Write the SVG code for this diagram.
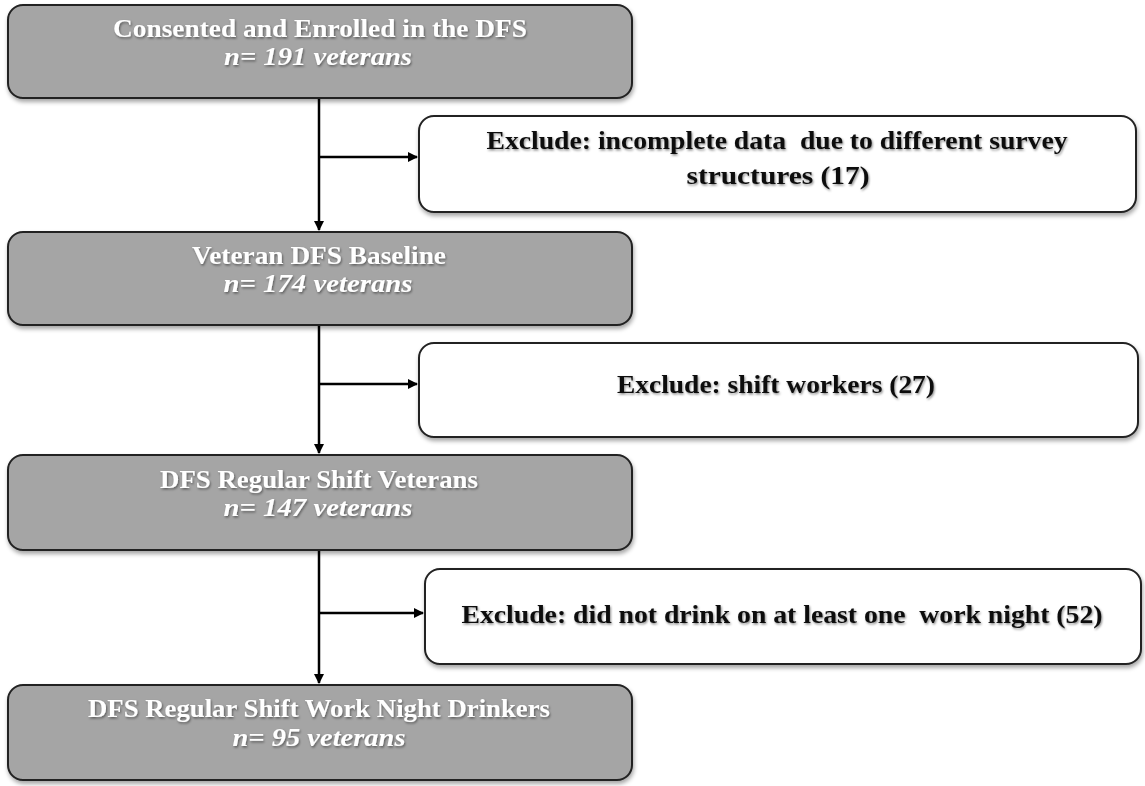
<svg xmlns="http://www.w3.org/2000/svg" width="1145" height="786" viewBox="0 0 1145 786">
<style>
.g{fill:#a5a5a5;stroke:#222;stroke-width:2}
.w{fill:#fff;stroke:#222;stroke-width:2}
.t{font-family:"Liberation Serif",serif;font-weight:bold;font-size:26px;text-anchor:middle;white-space:pre}
.tw{fill:#fff}
.tb{fill:#111}
.i{font-style:italic}
.c{stroke:#000;stroke-width:2.5;fill:none}
</style>
<defs>
<filter id="sh" x="-5%" y="-10%" width="110%" height="130%">
<feDropShadow dx="1" dy="3" stdDeviation="2" flood-color="#000" flood-opacity="0.35"/>
</filter>
<filter id="ts" x="-5%" y="-20%" width="110%" height="150%">
<feDropShadow dx="1" dy="1.5" stdDeviation="1.2" flood-color="#000" flood-opacity="0.45"/>
</filter>
<marker id="ah" viewBox="0 0 10 10" refX="9" refY="5" markerWidth="4" markerHeight="4" orient="auto" markerUnits="strokeWidth">
<path d="M0,0 L10,5 L0,10 z" fill="#000"/>
</marker>
</defs>
<g id="connectors">
<path class="c" d="M319,98 V230" marker-end="url(#ah)"/>
<path class="c" d="M319,157 H417" marker-end="url(#ah)"/>
<path class="c" d="M319,325 V453" marker-end="url(#ah)"/>
<path class="c" d="M319,384 H417" marker-end="url(#ah)"/>
<path class="c" d="M319,550 V683" marker-end="url(#ah)"/>
<path class="c" d="M319,613 H423" marker-end="url(#ah)"/>
</g>
<g id="n1">
<rect class="g" x="8" y="5" width="624" height="93" rx="15" filter="url(#sh)"/>
<g filter="url(#ts)"><text class="t tw" x="320" y="37" textLength="414" lengthAdjust="spacingAndGlyphs">Consented and Enrolled in the DFS</text>
<text class="t tw i" x="318" y="65" textLength="188" lengthAdjust="spacingAndGlyphs">n= 191 veterans</text></g>
</g>
<g id="n2">
<rect class="w" x="419" y="116" width="717" height="96" rx="15" filter="url(#sh)"/>
<g filter="url(#ts)"><text class="t tb" x="777" y="149" textLength="581" lengthAdjust="spacingAndGlyphs">Exclude: incomplete data  due to different survey</text>
<text class="t tb" x="778" y="184" textLength="183" lengthAdjust="spacingAndGlyphs">structures (17)</text></g>
</g>
<g id="n3">
<rect class="g" x="8" y="232" width="624" height="93" rx="15" filter="url(#sh)"/>
<g filter="url(#ts)"><text class="t tw" x="319" y="264" textLength="254" lengthAdjust="spacingAndGlyphs">Veteran DFS Baseline</text>
<text class="t tw i" x="318" y="292" textLength="189" lengthAdjust="spacingAndGlyphs">n= 174 veterans</text></g>
</g>
<g id="n4">
<rect class="w" x="419" y="343" width="719" height="94" rx="15" filter="url(#sh)"/>
<g filter="url(#ts)"><text class="t tb" x="776" y="393" textLength="318" lengthAdjust="spacingAndGlyphs">Exclude: shift workers (27)</text></g>
</g>
<g id="n5">
<rect class="g" x="8" y="455" width="624" height="95" rx="15" filter="url(#sh)"/>
<g filter="url(#ts)"><text class="t tw" x="319" y="488" textLength="318" lengthAdjust="spacingAndGlyphs">DFS Regular Shift Veterans</text>
<text class="t tw i" x="318" y="516" textLength="189" lengthAdjust="spacingAndGlyphs">n= 147 veterans</text></g>
</g>
<g id="n6">
<rect class="w" x="425" y="569" width="716" height="95" rx="15" filter="url(#sh)"/>
<g filter="url(#ts)"><text class="t tb" x="782" y="623" textLength="641" lengthAdjust="spacingAndGlyphs">Exclude: did not drink on at least one  work night (52)</text></g>
</g>
<g id="n7">
<rect class="g" x="8" y="685" width="624" height="95" rx="15" filter="url(#sh)"/>
<g filter="url(#ts)"><text class="t tw" x="319" y="717" textLength="462" lengthAdjust="spacingAndGlyphs">DFS Regular Shift Work Night Drinkers</text>
<text class="t tw i" x="319" y="746" textLength="173" lengthAdjust="spacingAndGlyphs">n= 95 veterans</text></g>
</g>
</svg>
